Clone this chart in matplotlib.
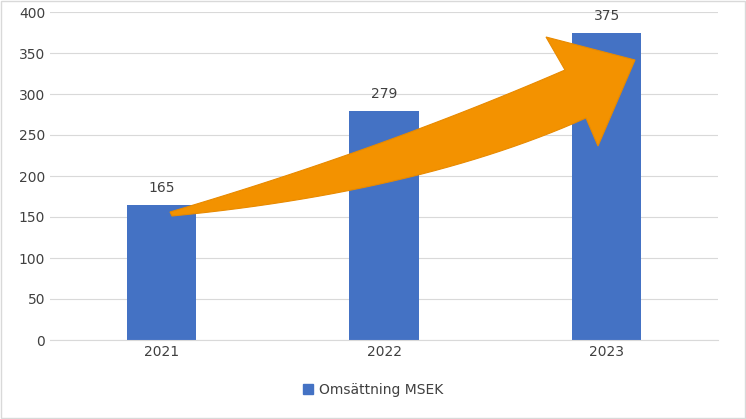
import matplotlib
matplotlib.use("Agg")
import matplotlib.pyplot as plt
import numpy as np
from matplotlib.patches import Polygon, Rectangle

categories = ["2021", "2022", "2023"]
values = [165, 279, 375]
series_name = "Omsättning MSEK"
yticks = [0, 50, 100, 150, 200, 250, 300, 350, 400]

W, H = 746, 419
fig = plt.figure(figsize=(W/100, H/100), dpi=100)
ax = fig.add_axes([50/W, 1-340/H, 668/W, 328/H])
x = np.arange(len(categories))
color = "#4472C4"
ax.bar(x, values, width=0.31, color=color, zorder=2)
for xi, v in zip(x, values):
    ax.text(xi, v + 12, str(v), ha="center", va="bottom", fontsize=10, color="#404040")
ax.set_xlim(-0.5, 2.5)
ax.set_ylim(0, 400)
ax.set_yticks(yticks)
ax.set_xticks(x)
ax.set_xticklabels(categories)
ax.tick_params(length=0, labelsize=10, colors="#404040")
ax.yaxis.grid(True, color="#d9d9d9", lw=0.8, zorder=0)
for s in ["top", "right", "left"]:
    ax.spines[s].set_visible(False)
ax.spines["bottom"].set_color("#d9d9d9")

def quad(p0, c, p1, n=30):
    t = np.linspace(0, 1, n)[:, None]
    return (1-t)**2*np.array(p0) + 2*(1-t)*t*np.array(c) + t**2*np.array(p1)

upper = quad((170, 212), (380, 150), (565, 70))
lower = quad((586, 118), (420, 192), (172, 216))
pts = np.vstack([upper, [(546, 37), (635, 60), (598, 146)], lower])
pts = np.column_stack([pts[:, 0]/W, 1 - pts[:, 1]/H])
fig.patches.append(Polygon(pts, closed=True, transform=fig.transFigure,
                           facecolor="#F39200", edgecolor="#E88A00", lw=0.8, zorder=5))

fig.patches.append(Rectangle((0.001, 0.002), 0.997, 0.996, transform=fig.transFigure,
                             fill=False, edgecolor="#d9d9d9", lw=1))
fig.legend(handles=[Rectangle((0, 0), 1, 1, color=color)], labels=[series_name],
           loc="center", bbox_to_anchor=(0.5, 1-390/H), frameon=False, fontsize=10,
           handlelength=0.7, handleheight=0.7, handletextpad=0.4, labelcolor="#404040")
fig.savefig("out.png", dpi=100)
